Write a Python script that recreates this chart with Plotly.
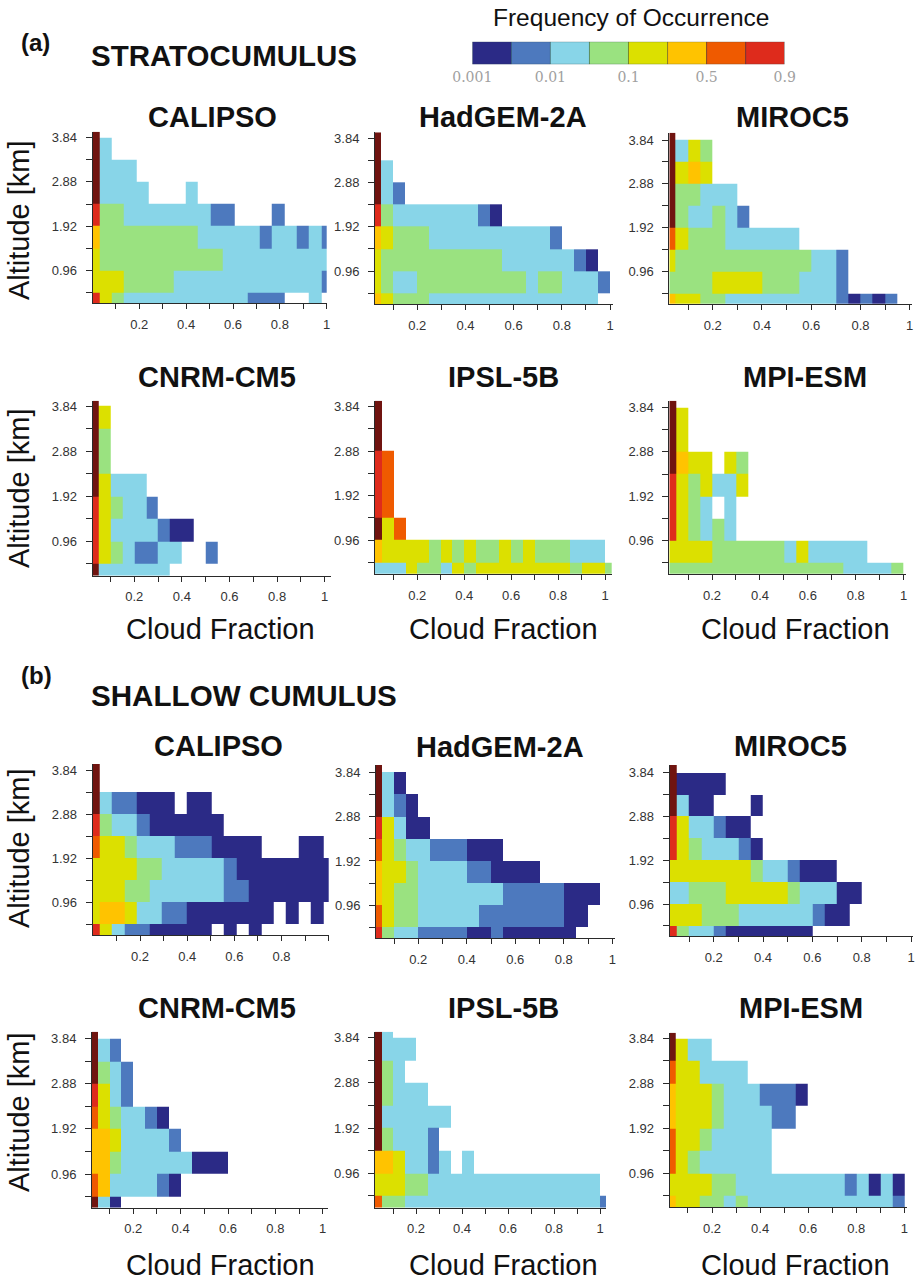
import plotly.graph_objects as go

W, H = 917, 1281

# Frequency class of each cell, top row (3.84-3.97 km) first, bottom row (0.24-0.48 km) last.
# Each character is one cloud-fraction bin, "." means no occurrence.
a_calipso = ["9", "93", "9333", "93333...3",
    "8443333333" + "22...2", "644444444" + "33333233232", "5" + "4"*10 + "3"*9,
    "555" + "4444" + "3"*12 + "2", "854" + "3"*10 + "222..3"]
a_hadgem = ["9", "9", "93", "932", "84333333321",
    "65444" + "3"*10 + "2", "5" + "4"*10 + "3"*6 + "21",
    "5433" + "4"*9 + "344" + "3332", "65444" + "3"*14]
a_miroc = ["9", "9354", "9565", "944333", "9433432",
    "75444333333", "5" + "4"*11 + "332", "4444555544433" + "32", "65544" + "3"*9 + "21212"]
a_cnrm = ["9", "95", "94", "94", "95333",
    "854332", "853333211", "8543" + "2233" + "..2", "9333333"]
a_ipsl = ["9", "9", "9", "87", "87", "87", "957",
    "65555" + "4545" + "44" + "545" + "444" + "333", "333" + "5443" + "54" + "5"*8 + "4554"]
a_mpi = ["9", "95", "95", "9655.54", "8545335", "8543.3", "854343",
    "5555" + "444444" + "35" + "33333", "4"*15 + "33334"]
b_calipso = ["9", "9", "9322111.11", "84332" + "111111",
    "7554333222" + "1111" + "...11", "5555" + "44" + "33333" + "2" + "1"*8,
    "555" + "44" + "333333" + "22" + "1"*7, "566533" + "22" + "1"*7 + ".1.1", "85322" + "11111.1.1"]
b_hadgem = ["9", "931", "9321", "85311", "75433222111",
    "6554" + "3333" + "22" + "1111", "6544" + "3"*7 + "2"*5 + "111",
    "7544" + "3"*5 + "2"*7 + "11", "84332222" + "112" + "1"*6]
b_miroc = ["9", "91111", "9311...1", "8533211", "85433321",
    "5555555" + "4332" + "111", "33444" + "55555" + "4333" + "11",
    "555444" + "333333" + "211", "84332" + "1"*7]
b_cnrm = ["9", "932", "9432", "8532", "7543321",
    "665" + "3333" + "2", "664" + "333333" + "111", "76" + "3333" + "21", "931"]
b_ipsl = ["93", "9333", "943", "94333", "9333333", "943332",
    "665332" + "3.3", "555" + "44" + "3"*15, "744" + "3"*17 + "2"]
b_mpi = ["9", "9533", "7553333", "6555" + "4333" + "2221", "65554" + "3333" + "22",
    "755" + "4" + "33333", "75" + "4" + "333333", "5555" + "44" + "3"*9 + "23131",
    "655" + "44" + "34" + "3"*12 + "2"]

panel_names = ["CALIPSO", "HadGEM-2A", "MIROC5", "CNRM-CM5", "IPSL-5B", "MPI-ESM"]
x_label_values = [0.2, 0.4, 0.6, 0.8, 1]
y_label_values = [0.96, 1.92, 2.88, 3.84]
level_colors = ["#2B2A86", "#4D79BE", "#88D5E8", "#9AE280", "#DCE000", "#FFC300", "#EF5A00", "#DE2B1C", "#701410"]
legend_levels = [1, 2, 3, 4, 5, 6, 7, 8]
legend_labels = ["0.001", "0.01", "0.1", "0.5", "0.9"]
altitude_edges = [0.48, 0.96, 1.44, 1.92, 2.40, 2.88, 3.36, 3.84]

# data, title, axis left/p(0.2)/p(1)/right, y(3.84)/y(0.96)/bottom/top, title centre, first bin, bin width
panels = [
 (a_calipso, 0, 92.7, 139.3, 326.7, 326.7, 137.7, 270.3, 303.3, 131.7, 212, 117, 0.029, 0.0527, True),
 (a_hadgem, 1, 375, 417.3, 610, 612.7, 138.3, 271, 304, 132.3, 503, 117, 0.05, 0.05, True),
 (a_miroc, 2, 669.3, 712.7, 909.7, 911.7, 140, 271.7, 304, 132.7, 792, 117, 0.05, 0.05, True),
 (a_cnrm, 3, 92.7, 134.3, 324.7, 331, 406, 541.3, 575.7, 400.7, 217, 377, 0.05, 0.05, True),
 (a_ipsl, 4, 375, 417.3, 605, 611.7, 406.7, 540, 574, 400.7, 503, 377, 0.05, 0.05, True),
 (a_mpi, 5, 669.3, 712, 903.7, 906.3, 407.3, 540.7, 574, 400.7, 805, 377, 0.05, 0.05, True),
 (b_calipso, 0, 92.7, 140, 328.7, 328.7, 770, 902.3, 935, 764, 218, 746, 0.029, 0.0527, False),
 (b_hadgem, 1, 376, 418.3, 612.3, 615, 772.3, 905.3, 938.3, 765, 500, 747, 0.05, 0.05, True),
 (b_miroc, 2, 669.7, 713.7, 911, 913, 772.7, 904, 936, 765, 790, 746, 0.05, 0.05, True),
 (b_cnrm, 3, 92, 133.3, 322.7, 328.3, 1038.7, 1174, 1207.7, 1031.7, 217, 1008, 0.05, 0.05, True),
 (b_ipsl, 4, 375, 416, 600, 606, 1037.7, 1173.3, 1207.7, 1031.7, 503, 1008, 0.05, 0.05, True),
 (b_mpi, 5, 669.7, 712, 904.3, 907, 1038.3, 1173.3, 1207.3, 1032.7, 801, 1008, 0.05, 0.05, True),
]

SANS = "Liberation Sans"
INK = "#2a2a2a"
fig = go.Figure()
n = len(level_colors)
scale = []
for i, c in enumerate(level_colors):
    scale += [[i / n, c], [(i + 1) / n, c]]


def parse(rows):
    grid = []
    for row in reversed(rows):
        row = row.ljust(21, ".")[:21]
        grid.append([None if ch == "." else int(ch) for ch in row])
    return grid


for i, p in enumerate(panels):
    rows, name, left, p02, p1, right, y384, y096, bottom, top, tx, ty, start, width, last_label = p
    k = i + 1
    xv = lambda px: 0.2 + (px - p02) / (p1 - p02) * 0.8
    yv = lambda py: 0.96 + (y096 - py) / (y096 - y384) * 2.88
    x_range = [xv(left), xv(right)]
    y_range = [yv(bottom), yv(top)]
    x_edges = [x_range[0]] + [start + width * j for j in range(21)]
    y_edges = [y_range[0]] + altitude_edges + [y_range[1]]
    fig.add_trace(go.Heatmap(z=parse(rows), x=x_edges, y=y_edges, colorscale=scale, zmin=0.5, zmax=n + 0.5,
                             showscale=False, hoverongaps=False, xaxis=f"x{k}", yaxis=f"y{k}"))
    xticks = [round(0.1 * j, 1) for j in range(1, 11)]
    xtext = [(f"{t:g}" if t in x_label_values and (t < 1 or last_label) else "") for t in xticks]
    yticks = [round(0.48 * j, 2) for j in range(1, 9)]
    ytext = [(f"{t:.2f}" if t in y_label_values else "") for t in yticks]
    fig.layout[f"xaxis{k}"] = dict(domain=[left / W, right / W], range=x_range, anchor=f"y{k}", showgrid=False,
        zeroline=False, showline=True, linecolor=INK, linewidth=1, ticks="outside", ticklen=5, tickwidth=1,
        tickcolor=INK, tickmode="array", tickvals=xticks, ticktext=xtext, tickangle=0, ticklabelstandoff=4,
        tickfont=dict(family=SANS, size=13, color="#333333"))
    fig.layout[f"yaxis{k}"] = dict(domain=[1 - bottom / H, 1 - top / H], range=y_range, anchor=f"x{k}", showgrid=False,
        zeroline=False, showline=True, linecolor=INK, linewidth=1, ticks="outside", ticklen=6, tickwidth=1,
        tickcolor=INK, tickmode="array", tickvals=yticks, ticktext=ytext, ticklabelstandoff=6,
        tickfont=dict(family=SANS, size=13, color="#333333"))

# legend colour bar
lk = len(panels) + 1
fig.add_trace(go.Heatmap(z=[legend_levels], x=[j for j in range(len(legend_levels) + 1)], y=[0, 1], colorscale=scale,
                         zmin=0.5, zmax=n + 0.5, showscale=False, xaxis=f"x{lk}", yaxis=f"y{lk}"))
sep_x, sep_y = [], []
for v in range(len(legend_levels) + 1):
    sep_x += [v, v, None]
    sep_y += [0, 1, None]
fig.add_trace(go.Scatter(x=sep_x + [0, 8, None, 0, 8], y=sep_y + [0, 0, None, 1, 1], mode="lines", showlegend=False,
                         line=dict(color="rgba(40,70,70,0.55)", width=1), xaxis=f"x{lk}", yaxis=f"y{lk}"))
fig.layout[f"xaxis{lk}"] = dict(domain=[472.3 / W, 784.7 / W], range=[0, 8], anchor=f"y{lk}", showgrid=False, zeroline=False,
    showline=False, ticks="", tickmode="array", tickvals=[0, 2, 4, 6, 8], ticktext=legend_labels, ticklabelstandoff=3,
    tickfont=dict(family="DejaVu Serif", size=14, color="#a0a0a0"))
fig.layout[f"yaxis{lk}"] = dict(domain=[1 - 64.3 / H, 1 - 41.7 / H], range=[0, 1], anchor=f"x{lk}", showgrid=False,
    zeroline=False, showline=False, showticklabels=False, ticks="")

notes = []


def text(s, x, y, size, bold=False, anchor="center", angle=0):
    notes.append(dict(text=f"<b>{s}</b>" if bold else s, x=x / W, y=1 - y / H, xref="paper", yref="paper", showarrow=False,
                      xanchor=anchor, yanchor="middle", textangle=angle,
                      font=dict(family=SANS, size=size, color="#111111")))


for p in panels:
    text(panel_names[p[1]], p[10], p[11], 29, bold=True)
text("(a)", 19, 42, 24, bold=True, anchor="left")
text("(b)", 19, 675, 24, bold=True, anchor="left")
text("STRATOCUMULUS", 89, 55, 29.5, bold=True, anchor="left")
text("SHALLOW CUMULUS", 89, 695, 29.6, bold=True, anchor="left")
text("Frequency of Occurrence", 630.5, 17, 24.5)
for y in (220, 488, 848, 1112):
    text("Altitude [km]", 19, y, 29, angle=-90)
for x, y in ((220, 629), (503, 629), (795, 629), (220, 1265), (503, 1265), (795, 1265)):
    text("Cloud Fraction", x, y, 29)

fig.update_layout(width=W, height=H, margin=dict(l=0, r=0, t=0, b=0, pad=0, autoexpand=False), paper_bgcolor="white",
                  plot_bgcolor="white", showlegend=False, annotations=notes)
fig.write_html("out.html", config={"displayModeBar": False},
               post_script="document.body.style.margin='0';document.body.style.overflow='hidden';")
